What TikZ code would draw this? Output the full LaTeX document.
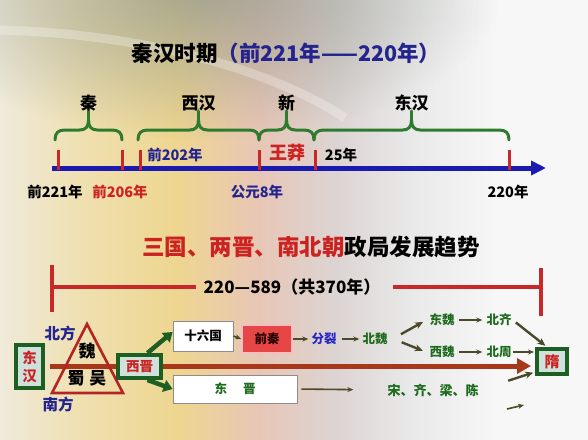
\documentclass[tikz,border=0pt]{standalone}
\usepackage{fontspec}
\setmainfont{Noto Sans CJK SC}
\usetikzlibrary{arrows.meta,fadings}

% palette
\definecolor{bgA}{HTML}{EFEADA}
\definecolor{bgB}{HTML}{EFE0B0}
\definecolor{bgC}{HTML}{EED690}
\definecolor{bgD}{HTML}{E8C6B6}
\definecolor{bgE}{HTML}{DCD4D2}
\definecolor{bgF}{HTML}{E9E9E9}
\definecolor{bgG}{HTML}{F7F7F7}
\definecolor{fog}{HTML}{8E968C}
\definecolor{navy}{HTML}{24248E}
\definecolor{hanred}{HTML}{CC2222}
\definecolor{txtgreen}{HTML}{1E6B1E}
\definecolor{bracegreen}{HTML}{2E7A2E}
\definecolor{boxgreen}{HTML}{1D5E22}
\definecolor{boxfill}{HTML}{CFE1DB}
\definecolor{olive}{HTML}{4A4A2A}
\definecolor{rust}{HTML}{A8381A}
\definecolor{tlblue}{HTML}{1A1AB0}
\definecolor{tickred}{HTML}{C82828}
\definecolor{splitblue}{HTML}{2626C8}
\definecolor{qinred}{HTML}{E64646}

% page background: warm on the left, pale on the right
\pgfdeclarehorizontalshading{bgshade}{100bp}{%
  color(0bp)=(bgA); color(25bp)=(bgA); color(32bp)=(bgB); color(40bp)=(bgC);
  color(47bp)=(bgD); color(53.5bp)=(bgE); color(60bp)=(bgF); color(67.5bp)=(bgG);
  color(75bp)=(bgG); color(100bp)=(bgG)}
\tikzfading[name=softglow, inner color=transparent!0, outer color=transparent!100]

% curly brace over a period of the timeline
\newcommand\hanbrace[2]{%
  \pgfmathsetmacro\bm{(#1+#2)/2}%
  \draw[bracestyle] (#1,140) .. controls (#1,133) and ({#1+3},130) .. ({#1+10},130)
    -- ({\bm-9},130) .. controls ({\bm-3},130) and (\bm,127) .. (\bm,120)
    .. controls (\bm,127) and ({\bm+3},130) .. ({\bm+9},130)
    -- ({#2-10},130) .. controls ({#2-3},130) and (#2,133) .. (#2,140);
  \draw[bracestyle] (\bm,120) -- (\bm,111);}

\begin{document}
\begin{tikzpicture}[x=1pt,y=-1pt,
  bracestyle/.style={bracegreen, line width=3pt, line cap=round},
  ticklbl/.style={font=\bfseries\fontsize{14.5}{16}\selectfont, inner sep=0pt},
  eralbl/.style={font=\bfseries\fontsize{17}{19}\selectfont, inner sep=0pt},
  tick/.style={tickred, line width=3pt},
  small/.style={font=\bfseries\fontsize{12.5}{14}\selectfont, inner sep=1pt},
  erabox/.style={draw=boxgreen, line width=4pt, fill=boxfill, text=hanred,
    font=\bfseries\fontsize{13.5}{15}\selectfont, inner sep=0pt, align=center},
  whitebox/.style={draw=black!45, line width=0.8pt, fill=white, inner sep=0pt,
    font=\bfseries\fontsize{12.5}{14}\selectfont},
  arr/.style={olive, line width=1.6pt, -{Stealth[length=6pt,width=5pt]}},
  midarr/.style={olive, line width=2.4pt, -{Stealth[length=8pt,width=7pt]}},
  bigarr/.style={boxgreen, line width=4.5pt, -{Triangle[length=9pt,width=12pt]}},
  span/.style={tickred, line width=4pt}]
\useasboundingbox (0,0) rectangle (588,439);

% background
\shade[shading=bgshade] (0,0) rectangle (588,439);
\fill[fog, path fading=softglow, opacity=0.75] (200,-10) ellipse [x radius=300, y radius=150];
\draw[white, opacity=0.28, line width=9pt] (-5,30) .. controls (120,32) and (260,62) .. (345,118);

% ---- Qin and Han timeline ----
\node[font=\bfseries\fontsize{21.5}{24}\selectfont, inner sep=0pt] (title1) at (286,53)
  {秦汉时期\textcolor{navy}{（前221年——220年）}};

\coordinate (tstart) at (52,168);
\coordinate (tend) at (546,168);
\draw[tlblue, line width=5pt, -{Triangle[length=15pt,width=14pt]}] (tstart) -- (tend);

\foreach \x in {58,122,140,259,315,509} \draw[tick] (\x,150) -- (\x,170);

\hanbrace{55}{122}
\hanbrace{138}{259}
\hanbrace{259}{314}
\hanbrace{314}{509}

\node[eralbl] (qin) at (88.5,103) {秦};
\node[eralbl] (xihan) at (198.5,103) {西汉};
\node[eralbl] (xin) at (286.5,103) {新};
\node[eralbl] (donghan) at (411.5,103) {东汉};

\node[ticklbl] (y221) at (55,192) {前221年};
\node[ticklbl, text=hanred] (y206) at (120,192) {前206年};
\node[ticklbl, text=navy] (y8) at (257,192) {公元8年};
\node[ticklbl] (y220) at (508,192) {220年};
\node[ticklbl, text=navy] (y202) at (175,155) {前202年};
\node[eralbl, text=hanred, font=\bfseries\fontsize{18}{20}\selectfont] (wangmang) at (287,153) {王莽};
\node[ticklbl] (y25) at (341,155) {25年};

% ---- Three Kingdoms to Southern and Northern Dynasties ----
\node[font=\bfseries\fontsize{22.5}{25}\selectfont, inner sep=0pt] (title2) at (311,247)
  {\textcolor{hanred}{三国、两晋、南北朝}政局发展趋势};

\node[font=\bfseries\fontsize{17}{19}\selectfont, inner sep=0pt] (period) at (292,287)
  {220—589（共370年）};
\coordinate (spanL) at (52,287);
\coordinate (spanR) at (541,287);
\draw[span] (52,265) -- (52,312);
\draw[span] (541,268) -- (541,316);
\draw[span] (spanL) -- ([xshift=-7pt]period.west);
\draw[span] ([xshift=12pt]period.east) -- (spanR);

% main line of succession
\coordinate (flowA) at (50,366);
\coordinate (flowB) at (531,366);
\draw[rust, line width=5pt, -{Triangle[length=14pt,width=15pt]}] (flowA) -- (flowB);

% the three kingdoms
\draw[tickred!90!black, line width=2.6pt, line join=miter] (87,324) -- (52,393) -- (123,393) -- cycle;
\node[font=\bfseries\fontsize{17}{19}\selectfont, inner sep=0pt] (wei) at (87,351) {魏};
\node[font=\bfseries\fontsize{17}{19}\selectfont, inner sep=0pt] (shuwu) at (87,378) {蜀\hspace{5pt}吴};
\node[font=\bfseries\fontsize{15.5}{17}\selectfont, text=navy, inner sep=0pt] (north) at (60,334) {北方};
\node[font=\bfseries\fontsize{15.5}{17}\selectfont, text=navy, inner sep=0pt] (south) at (58,405) {南方};

\node[erabox, minimum width=27pt, minimum height=43pt, font=\bfseries\fontsize{14.5}{18}\selectfont]
  (donghanbox) at (29.5,366.5) {东\\汉};
\node[erabox, minimum width=43pt, minimum height=23pt] (xijin) at (139.5,366.5) {西晋};
\node[erabox, minimum width=30pt, minimum height=25pt, font=\bfseries\fontsize{15}{17}\selectfont]
  (sui) at (552,361.5) {隋};

\node[whitebox, minimum width=60pt, minimum height=30pt] (shiliu) at (203,336) {十六国};
\node[draw=qinred!35!white, line width=1.6pt, fill=qinred, minimum width=50pt, minimum height=28pt,
  inner sep=0pt, text=black!85!red, font=\bfseries\fontsize{12.5}{14}\selectfont] (qianqin) at (267,339) {前秦};
\node[whitebox, minimum width=124pt, minimum height=28pt, text=txtgreen] (dongjin) at (235,389) {东\hspace{16pt}晋};

\node[small, text=splitblue] (fenlie) at (324,339) {分裂};
\node[small, text=txtgreen] (beiwei) at (375,339) {北魏};
\node[small, text=txtgreen] (dongwei) at (442,320) {东魏};
\node[small, text=txtgreen] (beiqi) at (499,320) {北齐};
\node[small, text=txtgreen] (xiwei) at (442,352) {西魏};
\node[small, text=txtgreen] (beizhou) at (499,352) {北周};
\node[small, text=txtgreen, font=\bfseries\fontsize{13}{15}\selectfont] (southern) at (433,390) {宋、齐、梁、陈};

% succession arrows
\draw[bigarr] ([xshift=8pt]xijin.north) -- ([yshift=4pt]shiliu.west);
\draw[bigarr] ([xshift=8pt]xijin.south) -- (dongjin.west);
\draw[arr] (shiliu.east) -- (qianqin.west);
\draw[arr] (qianqin.east) -- ([xshift=-2pt]fenlie.west);
\draw[arr] ([xshift=4pt]fenlie.east) -- ([xshift=-2pt]beiwei.west);
\draw[midarr, shorten <=14pt, shorten >=6pt] ([yshift=-2pt]beiwei.east) -- ([yshift=1pt]dongwei.west);
\draw[midarr, shorten <=14pt, shorten >=6pt] ([yshift=2pt]beiwei.east) -- ([yshift=-1pt]xiwei.west);
\draw[arr, shorten <=3pt, shorten >=3pt] (dongwei.east) -- (beiqi.west);
\draw[arr, shorten <=3pt, shorten >=3pt] (xiwei.east) -- (beizhou.west);
\draw[midarr, shorten <=4pt, shorten >=2pt] (beiqi.east) -- ([xshift=-5pt]sui.north);
\draw[arr, shorten >=1pt] (beizhou.east) -- (sui.west |- beizhou.east);
\draw[arr, shorten >=33pt, shorten <=4pt] (dongjin.east) -- (southern.west);
\draw[midarr, shorten <=30pt, shorten >=2pt] (southern.east) -- ([yshift=4pt]sui.south west);
\coordinate (tailA) at (507,409);
\coordinate (tailB) at (524,405);
\draw[arr] (tailA) -- (tailB);
\end{tikzpicture}
\end{document}
